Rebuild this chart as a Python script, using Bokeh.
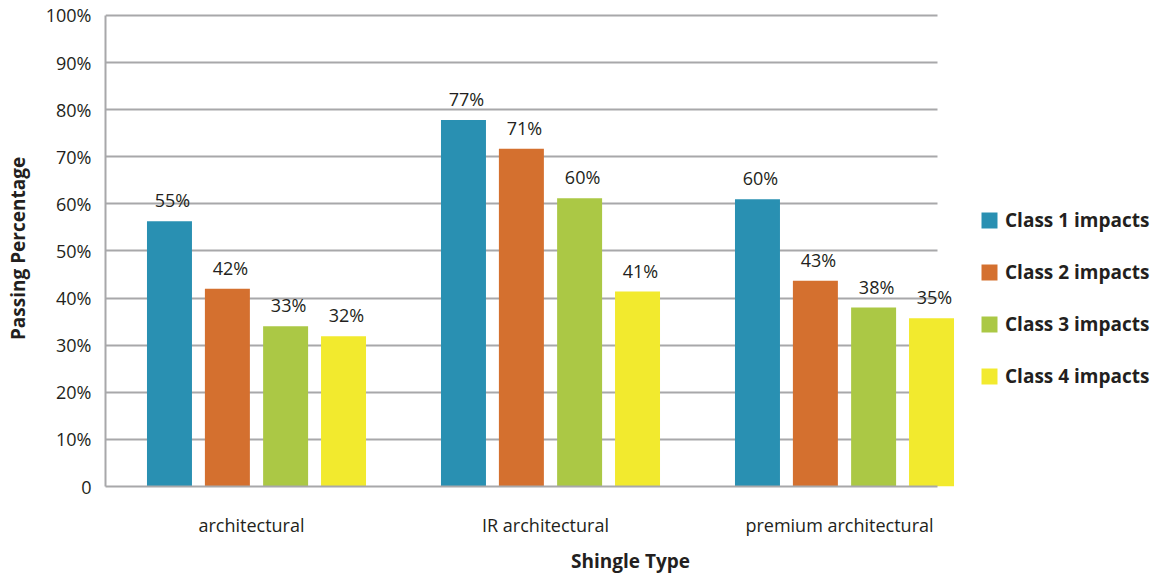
from bokeh.plotting import figure
from bokeh.models import ColumnDataSource, Range1d, FixedTicker, Legend, LegendItem
from bokeh.transform import dodge
from bokeh.core.properties import value
from bokeh.embed import file_html
from bokeh.resources import INLINE

# ---- data ----
categories = ["architectural", "IR architectural", "premium architectural"]
series_names = ["Class 1 impacts", "Class 2 impacts", "Class 3 impacts", "Class 4 impacts"]
class1 = [56.3, 77.8, 61.0]
class2 = [42.0, 71.7, 43.7]
class3 = [34.0, 61.2, 38.0]
class4 = [31.9, 41.4, 35.7]
class1_labels = ["55%", "77%", "60%"]
class2_labels = ["42%", "71%", "43%"]
class3_labels = ["33%", "60%", "38%"]
class4_labels = ["32%", "41%", "35%"]
y_ticks = [0, 10, 20, 30, 40, 50, 60, 70, 80, 90, 100]
y_tick_labels = ["0", "10%", "20%", "30%", "40%", "50%", "60%", "70%", "80%", "90%", "100%"]

# ---- style ----
colors = ["#2990b2", "#d4702f", "#abc845", "#f2ea2e"]
FONT = "Open Sans"
TXT = "#231f20"
GRID = "#a8a8aa"
offsets = [-0.279, -0.082, 0.116, 0.313]
bar_w = 0.153
x_start = -0.4966
x_end = x_start + 1050 / 294.0
axis_end = (937 - 251) / 294.0

p = figure(width=1155, height=576, output_backend="svg", toolbar_location=None,
           x_range=Range1d(x_start, x_end), y_range=Range1d(0, 100 * 477 / 472.0),
           min_border_left=105, min_border_right=0, min_border_top=10, min_border_bottom=89)
p.outline_line_color = None
p.background_fill_color = "white"
p.border_fill_color = "white"
p.xgrid.visible = False

# grid
g = p.ygrid[0]
g.ticker = FixedTicker(ticks=y_ticks)
g.grid_line_color = GRID
g.grid_line_width = 2
if "cross_bounds" in g.properties():
    g.cross_bounds = (x_start, axis_end)
else:
    g.visible = False
    p.segment(x0=[x_start] * len(y_ticks), x1=[axis_end] * len(y_ticks), y0=y_ticks, y1=y_ticks,
              line_color=GRID, line_width=2)

values = [class1, class2, class3, class4]
labels = [class1_labels, class2_labels, class3_labels, class4_labels]
items = []
for i in range(4):
    src = ColumnDataSource(dict(x=list(range(len(categories))), top=values[i], label=labels[i]))
    r = p.vbar(x=dodge("x", offsets[i], range=p.x_range), top="top", width=bar_w, source=src,
               fill_color=colors[i], line_color=None)
    items.append(LegendItem(label=series_names[i], renderers=[r]))
    p.text(x=dodge("x", offsets[i], range=p.x_range), y="top", text="label", source=src,
           text_font=value(FONT), text_font_size="18px", text_color=TXT,
           text_align="center", text_baseline="middle", x_offset=3, y_offset=-21)

# axes
xa = p.xaxis[0]
xa.ticker = FixedTicker(ticks=list(range(len(categories))))
xa.major_label_overrides = {i: c for i, c in enumerate(categories)}
xa.bounds = (x_start, axis_end)
xa.axis_line_color = GRID
xa.axis_line_width = 2
xa.major_tick_line_color = None
xa.minor_tick_line_color = None
xa.major_tick_out = 0
xa.major_tick_in = 0
xa.minor_tick_out = 0
xa.minor_tick_in = 0
xa.major_label_text_font = FONT
xa.major_label_text_font_size = "18px"
xa.major_label_text_color = TXT
xa.major_label_standoff = 26
xa.axis_label = "Shingle Type"
xa.axis_label_text_font = FONT
xa.axis_label_text_font_style = "bold"
xa.axis_label_text_font_size = "19px"
xa.axis_label_text_color = TXT
xa.axis_label_standoff = 8

ya = p.yaxis[0]
ya.ticker = FixedTicker(ticks=y_ticks)
ya.major_label_overrides = {t: l for t, l in zip(y_ticks, y_tick_labels)}
ya.bounds = (0, 100)
ya.axis_line_color = GRID
ya.axis_line_width = 2
ya.major_tick_line_color = None
ya.minor_tick_line_color = None
ya.major_tick_out = 0
ya.major_tick_in = 0
ya.minor_tick_out = 0
ya.minor_tick_in = 0
ya.major_label_text_font = FONT
ya.major_label_text_font_size = "18px"
ya.major_label_text_color = TXT
ya.major_label_standoff = 14
ya.axis_label = "Passing Percentage"
ya.axis_label_text_font = FONT
ya.axis_label_text_font_style = "bold"
ya.axis_label_text_font_size = "19px"
ya.axis_label_text_color = TXT
ya.axis_label_standoff = 12

legend = Legend(items=items, location=(874, 97), orientation="vertical",
                glyph_width=20, glyph_height=20, label_height=20, label_standoff=6,
                spacing=26, padding=0, margin=0,
                label_text_font=FONT, label_text_font_style="bold",
                label_text_font_size="19px", label_text_color=TXT,
                border_line_color=None, background_fill_alpha=0)
p.add_layout(legend)

open("out.html", "w").write(file_html(p, INLINE))
